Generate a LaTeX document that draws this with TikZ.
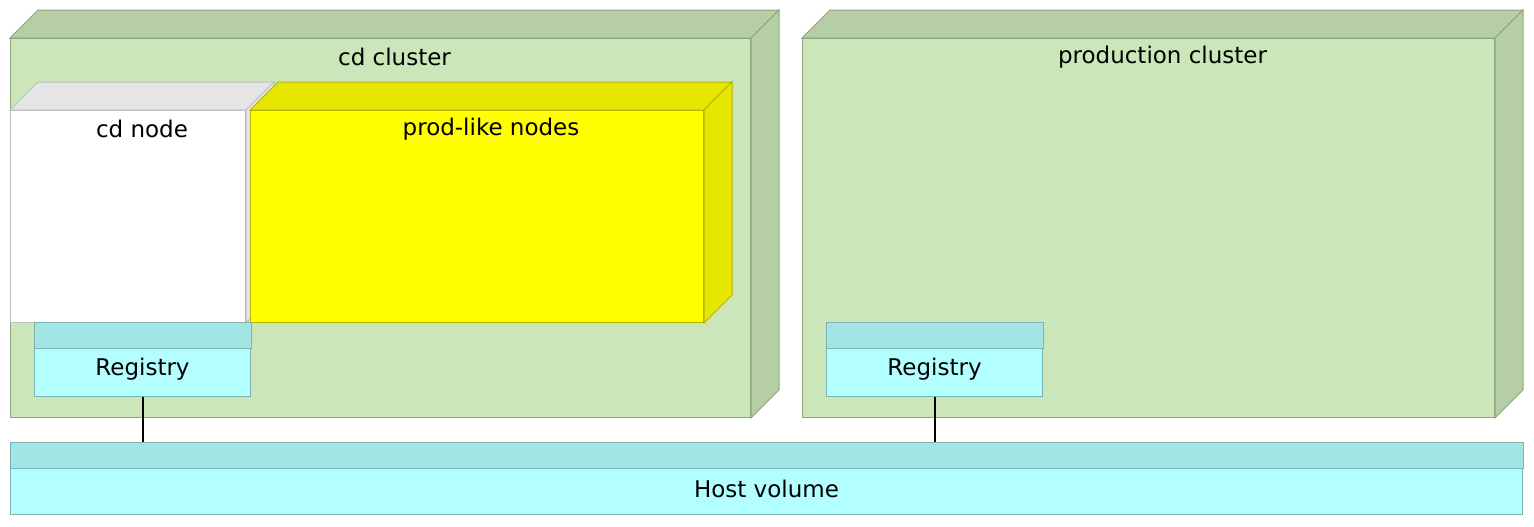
\documentclass[tikz,border=0pt]{standalone}
\usepackage{fontspec}
\setmainfont{DejaVu Sans}
\usetikzlibrary{positioning}
\definecolor{clusterfront}{HTML}{CBE6B9}
\definecolor{clusterside}{HTML}{B5CEA5}
\definecolor{clusterline}{HTML}{8CA67F}
\definecolor{prodfront}{HTML}{FFFF00}
\definecolor{prodside}{HTML}{E6E600}
\definecolor{prodline}{HTML}{B3B300}
\definecolor{cdside}{HTML}{E5E5E5}
\definecolor{cdline}{HTML}{BFBFBF}
\definecolor{volhead}{HTML}{A2E5E5}
\definecolor{volbody}{HTML}{B3FFFF}
\definecolor{volline}{HTML}{7FB3B3}
% top and right faces of a box drawn as a node: node, depth, fill, line
\newcommand{\boxfaces}[4]{
	\filldraw[fill=#3, draw=#4, line width=0.5pt] (#1.north west) -- ++(#2,-#2) -- ([shift={(#2,-#2)}]#1.north east) -- (#1.north east) -- cycle;
	\filldraw[fill=#3, draw=#4, line width=0.5pt] (#1.north east) -- ++(#2,-#2) -- ([shift={(#2,-#2)}]#1.south east) -- (#1.south east) -- cycle;
}

\begin{document}
\begin{tikzpicture}[x=0.5pt, y=-0.5pt, font=\fontsize{11.5}{14}\selectfont,
	face/.style={draw, line width=0.5pt, inner sep=0pt, anchor=north west},
	vol/.style={face, fill=volbody, draw=volline},
	lbl/.style={inner sep=0pt, anchor=center}]

\useasboundingbox (0,0) rectangle (1534,526);

% cd cluster
\node[face, fill=clusterfront, draw=clusterline, minimum width=370pt, minimum height=189.5pt] (cdcluster) at (10,38) {};
\boxfaces{cdcluster}{28}{clusterside}{clusterline}
\node[lbl] (cdclusterlbl) at ([xshift=7pt, yshift=-9.5pt]cdcluster.north) {cd cluster};

% cd node
\node[face, fill=white, draw=cdline, minimum width=117.5pt, minimum height=106pt] (cdnode) at (10,110) {};
\boxfaces{cdnode}{28}{cdside}{cdline}
\node[lbl] (cdnodelbl) at ([xshift=7pt, yshift=-9.5pt]cdnode.north) {cd node};

% prod-like nodes
\node[face, fill=prodfront, draw=prodline, minimum width=226.5pt, minimum height=106pt] (prodlike) at (250,110) {};
\boxfaces{prodlike}{28}{prodside}{prodline}
\node[lbl] (prodlikelbl) at ([xshift=7pt, yshift=-9.5pt]prodlike.north) {prod-like nodes};

% production cluster
\node[face, fill=clusterfront, draw=clusterline, minimum width=346pt, minimum height=189.5pt] (prodcluster) at (802,38) {};
\boxfaces{prodcluster}{28}{clusterside}{clusterline}
\node[lbl] (prodclusterlbl) at ([xshift=7pt, yshift=-9.5pt]prodcluster.north) {production cluster};

% registries and host volume
\node[vol, minimum width=108pt, minimum height=37pt] (cdreg) at (34,322) {};
\node[vol, minimum width=108pt, minimum height=37pt] (prodreg) at (826,322) {};
\node[vol, minimum width=756pt, minimum height=36pt] (hostvol) at (10,442) {};
\foreach \v in {cdreg,prodreg,hostvol}
	\filldraw[fill=volhead, draw=volline, line width=0.5pt] (\v.north west) rectangle ([yshift=-13pt]\v.north east);

\node[lbl] (cdreglbl) at ([yshift=-23.5pt]cdreg.north) {Registry};
\node[lbl] (prodreglbl) at ([yshift=-23.5pt]prodreg.north) {Registry};
\node[lbl] (hostvollbl) at ([yshift=-23.5pt]hostvol.north) {Host volume};

\draw[line width=1pt] (cdreg.south) -- (cdreg.south |- hostvol.north);
\draw[line width=1pt] (prodreg.south) -- (prodreg.south |- hostvol.north);
\end{tikzpicture}
\end{document}
